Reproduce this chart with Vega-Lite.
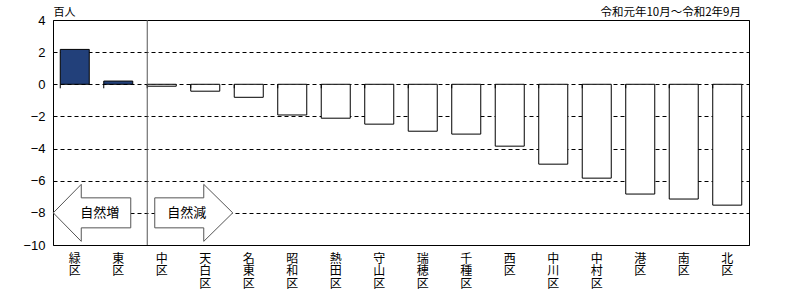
{
  "$schema": "https://vega.github.io/schema/vega-lite/v6.json",
  "width": 696,
  "height": 225,
  "autosize": {"type": "none"},
  "padding": {"left": 53, "top": 20, "right": 46, "bottom": 62},
  "background": "white",
  "config": {
    "view": {"stroke": "black", "strokeWidth": 1},
    "font": "Noto Sans CJK JP",
    "axisY": {
      "grid": true,
      "gridDash": [4, 3],
      "gridColor": "black",
      "gridWidth": 1,
      "gridOpacity": 1,
      "domain": false,
      "ticks": false,
      "labelPadding": 8,
      "labelOverlap": false,
      "labelFlush": false,
      "labelFont": "Liberation Sans",
      "labelFontSize": 13,
      "labelColor": "black",
      "titleAngle": 0,
      "titleAlign": "left",
      "titleBaseline": "middle",
      "titleX": 0,
      "titleY": -8,
      "titleFont": "Noto Sans CJK JP",
      "titleFontSize": 11,
      "titleFontWeight": "normal",
      "titleColor": "black"
    }
  },
  "title": {
    "text": "令和元年10月～令和2年9月",
    "anchor": "end",
    "font": "Noto Sans CJK JP",
    "fontSize": 11.5,
    "fontWeight": "normal",
    "color": "black",
    "dx": -8,
    "dy": 16,
    "offset": 4
  },
  "datasets": {
    "main": [
      {"ward": "緑区", "value": 2.17, "kind": "増"},
      {"ward": "東区", "value": 0.2, "kind": "増"},
      {"ward": "中区", "value": -0.12, "kind": "減"},
      {"ward": "天白区", "value": -0.43, "kind": "減"},
      {"ward": "名東区", "value": -0.81, "kind": "減"},
      {"ward": "昭和区", "value": -1.91, "kind": "減"},
      {"ward": "熱田区", "value": -2.11, "kind": "減"},
      {"ward": "守山区", "value": -2.48, "kind": "減"},
      {"ward": "瑞穂区", "value": -2.92, "kind": "減"},
      {"ward": "千種区", "value": -3.1, "kind": "減"},
      {"ward": "西区", "value": -3.85, "kind": "減"},
      {"ward": "中川区", "value": -4.97, "kind": "減"},
      {"ward": "中村区", "value": -5.84, "kind": "減"},
      {"ward": "港区", "value": -6.83, "kind": "減"},
      {"ward": "南区", "value": -7.14, "kind": "減"},
      {"ward": "北区", "value": -7.52, "kind": "減"}
    ],
    "arrows": [
      {"ward": "緑区", "value": -8, "label": "自然増"},
      {"ward": "中区", "value": -8, "label": "自然減"}
    ]
  },
  "data": {"name": "main"},
  "encoding": {
    "x": {
      "field": "ward",
      "type": "nominal",
      "scale": {
        "domain": ["緑区", "東区", "中区", "天白区", "名東区", "昭和区", "熱田区", "守山区", "瑞穂区", "千種区", "西区", "中川区", "中村区", "港区", "南区", "北区"],
        "paddingInner": 0.333,
        "paddingOuter": 0.1667
      },
      "axis": {
        "title": null,
        "labelAngle": 0,
        "labelExpr": "split(datum.label, '')",
        "labelFont": "Noto Sans CJK JP",
        "labelFontSize": 12,
        "labelLineHeight": 12.5,
        "labelBaseline": "top",
        "labelAlign": "center",
        "labelColor": "black",
        "labelPadding": 8,
        "labelOverlap": false,
        "ticks": false,
        "tickSize": 0,
        "domain": false,
        "grid": false
      }
    },
    "y": {
      "field": "value",
      "type": "quantitative",
      "scale": {"domain": [-10, 4], "nice": false, "zero": false},
      "axis": {"values": [4, 2, 0, -2, -4, -6, -8, -10], "title": "百人"}
    }
  },
  "layer": [
    {
      "mark": {"type": "bar", "stroke": "black", "strokeWidth": 1},
      "encoding": {
        "fill": {
          "field": "kind",
          "type": "nominal",
          "scale": {"domain": ["増", "減"], "range": ["#22407A", "white"]},
          "legend": null
        }
      }
    },
    {
      "mark": {"type": "rule", "color": "black", "strokeWidth": 1},
      "encoding": {"y": {"datum": 0, "axis": {"values": [4, 2, 0, -2, -4, -6, -8, -10], "title": "百人"}}}
    },
    {
      "mark": {"type": "point", "shape": "M0,0L0,4", "size": 4, "filled": false, "stroke": "black", "strokeWidth": 1, "opacity": 1},
      "encoding": {
        "x": {"field": "ward", "type": "nominal", "bandPosition": 0},
        "y": {"datum": 0, "axis": {"values": [4, 2, 0, -2, -4, -6, -8, -10], "title": "百人"}}
      }
    },
    {
      "transform": [{"filter": "datum.ward === '中区'"}],
      "mark": {"type": "rule", "color": "#555555", "strokeWidth": 1},
      "encoding": {
        "x": {"field": "ward", "type": "nominal", "bandPosition": 0},
        "y": null
      }
    },
    {
      "data": {"name": "arrows"},
      "transform": [{"filter": "datum.label === '自然増'"}],
      "mark": {"type": "point", "shape": "M-21.5,0L6.5,-28.5L6.5,-15L56,-15L56,15L6.5,15L6.5,28.5Z", "size": 4, "filled": true, "fill": "white", "stroke": "#555555", "strokeWidth": 1, "opacity": 1}
    },
    {
      "data": {"name": "arrows"},
      "transform": [{"filter": "datum.label === '自然減'"}],
      "mark": {"type": "point", "shape": "M-7,-15L42,-15L42,-28.5L71,0L42,28.5L42,15L-7,15Z", "size": 4, "filled": true, "fill": "white", "stroke": "#555555", "strokeWidth": 1, "opacity": 1}
    },
    {
      "data": {"name": "arrows"},
      "mark": {"type": "text", "dx": 25, "font": "Noto Sans CJK JP", "fontSize": 13, "color": "black", "align": "center", "baseline": "middle"},
      "encoding": {
        "text": {"field": "label"}
      }
    }
  ]
}
